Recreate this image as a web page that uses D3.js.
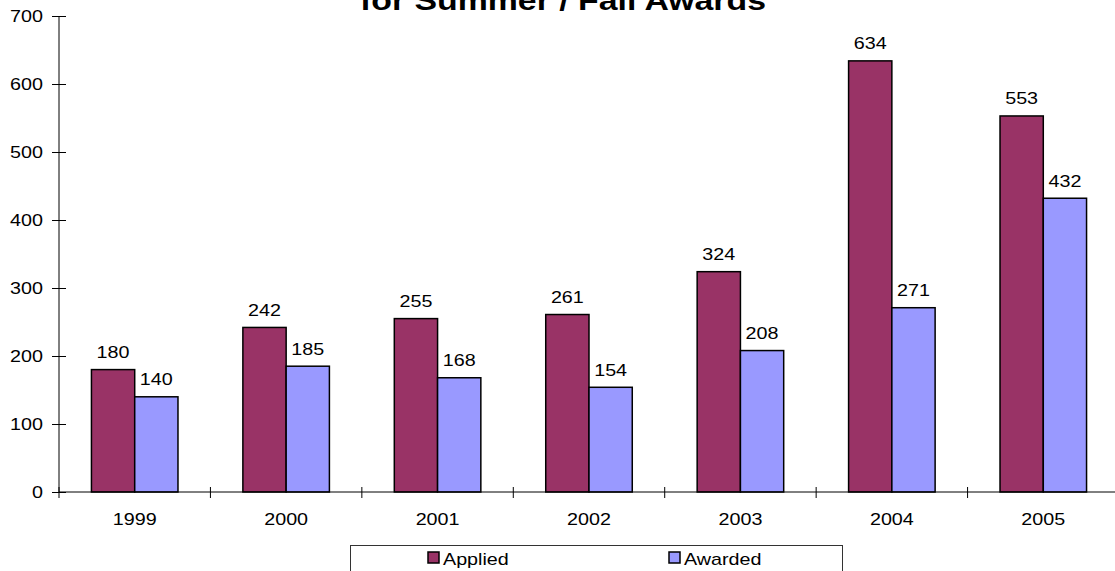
<!DOCTYPE html>
<html>
<head>
<meta charset="utf-8">
<script src="https://cdn.jsdelivr.net/npm/d3@7"></script>
<style>
  html, body { margin: 0; padding: 0; background: #fff; }
  svg { display: block; }
  text { font-family: "Liberation Sans", Arial, sans-serif; fill: #000; }
</style>
</head>
<body>
<svg id="chart" width="1115" height="571"></svg>
<script>
const years = ["1999", "2000", "2001", "2002", "2003", "2004", "2005"];
const seriesNames = ["Applied", "Awarded"];
const applied = [180, 242, 255, 261, 324, 634, 553];
const awarded = [140, 185, 168, 154, 208, 271, 432];
const yTicks = [0, 100, 200, 300, 400, 500, 600, 700];
const colors = ["#993366", "#9999FF"];
const titleText = "for Summer / Fall Awards";

const svg = d3.select("#chart");
const plotLeft = 59, plotRight = 1119, plotTop = 16, plotBottom = 492;
const stretch = 1.16;
const fs = 17;

function widen(sel, f) {
  sel.each(function() {
    const w = this.getComputedTextLength();
    d3.select(this).attr("textLength", w * f).attr("lengthAdjust", "spacingAndGlyphs");
  });
}

const x0 = d3.scaleBand().domain(years).range([plotLeft, plotRight]).padding(0);
const x1 = d3.scaleBand().domain(seriesNames).range([0, x0.bandwidth()]).paddingInner(0).paddingOuter(0.75);
const y = d3.scaleLinear().domain([0, 700]).range([plotBottom, plotTop]);

// Title (partially cut off at top, as in the reference)
svg.append("text")
  .attr("x", 563).attr("y", 10)
  .attr("text-anchor", "middle")
  .attr("font-size", 28).attr("font-weight", "bold")
  .attr("textLength", 406).attr("lengthAdjust", "spacingAndGlyphs")
  .text(titleText);

// Bars
const data = years.map((yr, i) => ({ year: yr, values: [applied[i], awarded[i]] }));
const groups = svg.append("g").selectAll("g").data(data).join("g")
  .attr("transform", d => `translate(${x0(d.year)},0)`);

groups.selectAll("rect").data(d => d.values.map((v, j) => ({ s: seriesNames[j], v, j })))
  .join("rect")
  .attr("x", d => x1(d.s))
  .attr("y", d => y(d.v))
  .attr("width", x1.bandwidth())
  .attr("height", d => y(0) - y(d.v))
  .attr("fill", d => colors[d.j])
  .attr("stroke", "#000").attr("stroke-width", 1.5);

const labels = groups.selectAll("text.val").data(d => d.values.map((v, j) => ({ s: seriesNames[j], v, j })))
  .join("text").attr("class", "val")
  .attr("x", d => x1(d.s) + x1.bandwidth() / 2)
  .attr("y", d => y(d.v) - 11.5)
  .attr("text-anchor", "middle")
  .attr("font-size", fs)
  .text(d => d.v);
widen(labels, stretch);

// Y axis
const yAxis = svg.append("g").attr("transform", `translate(${plotLeft},0)`)
  .call(d3.axisLeft(y).tickValues(yTicks).tickSize(7).tickPadding(9).tickSizeOuter(0));
yAxis.select(".domain").attr("stroke", "#000").attr("d", `M0,${plotTop}V${plotBottom}`);
yAxis.selectAll(".tick line").attr("x1", 7).attr("stroke", "#000");
yAxis.selectAll(".tick text").attr("font-size", fs).attr("font-family", "Liberation Sans, Arial, sans-serif")
  .attr("fill", "#000").attr("dy", null).attr("y", 5.5);
widen(yAxis.selectAll(".tick text"), stretch);

// X axis
const xAxis = svg.append("g").attr("transform", `translate(0,${plotBottom})`)
  .call(d3.axisBottom(x0).tickSize(0).tickPadding(0).tickSizeOuter(0));
xAxis.select(".domain").attr("stroke", "#000").attr("d", `M${plotLeft},0H${plotRight}`);
xAxis.selectAll(".tick text").attr("font-size", fs).attr("font-family", "Liberation Sans, Arial, sans-serif")
  .attr("fill", "#000").attr("dy", null).attr("y", 33);
widen(xAxis.selectAll(".tick text"), stretch);
const bounds = years.map(d => x0(d)).concat([x0(years[years.length - 1]) + x0.bandwidth()]);
xAxis.selectAll("line.bound").data(bounds).join("line").attr("class", "bound")
  .attr("x1", d => d).attr("x2", d => d)
  .attr("y1", -5).attr("y2", 6)
  .attr("stroke", "#000");

// Legend
const legend = svg.append("g");
legend.append("rect")
  .attr("x", 350.5).attr("y", 545.5).attr("width", 492).attr("height", 40)
  .attr("fill", "#fff").attr("stroke", "#333").attr("stroke-width", 1);
const legendX = [428, 669];
seriesNames.forEach((s, i) => {
  legend.append("rect")
    .attr("x", legendX[i]).attr("y", 552).attr("width", 11).attr("height", 11)
    .attr("fill", colors[i]).attr("stroke", "#000").attr("stroke-width", 1.5);
  const t = legend.append("text")
    .attr("x", legendX[i] + 15).attr("y", 565)
    .attr("font-size", fs).text(s);
  widen(t, stretch);
});
</script>
</body>
</html>
